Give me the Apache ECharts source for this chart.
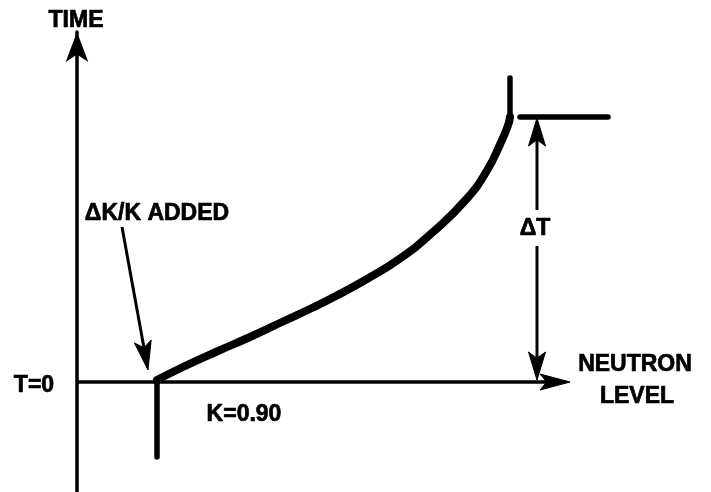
<!DOCTYPE html>
<html>
<head>
<meta charset="utf-8">
<style>
  html, body { margin: 0; padding: 0; background: #fff; }
  #chart { width: 711px; height: 492px; }
</style>
<script src="https://cdn.jsdelivr.net/npm/echarts@6/dist/echarts.min.js"></script>
</head>
<body>
<div id="chart"></div>
<script>
// ---- Data (arbitrary units: neutron level on x, time on y) ----
// Neutron level vs time after reactivity (ΔK/K) is added at T=0
const curveLevel = [16, 21.2, 28, 34.6, 41.2, 47.2, 51.2, 58, 64.6, 71.2, 78, 82, 84.6, 86.2, 86.6];
const curveTime  = [0.4, 3.0, 6.1, 9.0, 12.1, 14.9, 16.9, 20.6, 24.7, 30, 36.7, 42.3, 47.5, 51.3, 53];
// vertical stroke where ΔK/K is added (level = 16) below T = 0
const dropLevel = [16, 16];
const dropTime  = [0, -15];
// vertical stroke at the top of the curve
const topRiseLevel = [86.6, 86.6];
const topRiseTime  = [52, 60.8];
// horizontal reference line at end of ΔT
const refLevel = [88.6, 106.2];
const refTime  = [53, 53];
// arrows: [fromLevel, fromTime, toLevel, toTime]
const levelAxisArrow = [0, 0, 98.6, 0];
const dtUpperArrow   = [92, 34.4, 92, 52.8];
const dtLowerArrow   = [92, 27.2, 92, 0.4];
const addedArrow     = [9, 31, 14.2, 2.4];
// labels
const labels = {
  time: 'TIME', t0: 'T=0', added: 'ΔK/K ADDED', k: 'K=0.90', dt: 'ΔT',
  neutron: 'NEUTRON', level: 'LEVEL'
};

const zip = (a, b) => a.map((v, i) => [v, b[i]]);
const FONT = '"Liberation Sans", Arial, Helvetica, sans-serif';
const chart = echarts.init(document.getElementById('chart'), null, { renderer: 'canvas' });

// arrow styling (separate from data): line width, head length, head width
const arrowStyle = [
  { lw: 3.5, len: 30, w: 16 },
  { lw: 3, len: 28, w: 17 },
  { lw: 3, len: 28, w: 17 },
  { lw: 3, len: 29, w: 17 }
];

function renderArrow(params, api) {
  const s = arrowStyle[params.dataIndex];
  const p1 = api.coord([api.value(0), api.value(1)]);
  const p2 = api.coord([api.value(2), api.value(3)]);
  const dx = p2[0] - p1[0], dy = p2[1] - p1[1];
  const d = Math.sqrt(dx * dx + dy * dy) || 1;
  const ux = dx / d, uy = dy / d, nx = -uy, ny = ux;
  const bx = p2[0] - ux * s.len, by = p2[1] - uy * s.len;
  const notch = [p2[0] - ux * s.len * 0.78, p2[1] - uy * s.len * 0.78];
  return {
    type: 'group',
    children: [
      { type: 'line', shape: { x1: p1[0], y1: p1[1], x2: notch[0], y2: notch[1] },
        style: { stroke: '#000', lineWidth: s.lw } },
      { type: 'polygon', shape: { points: [
          [p2[0], p2[1]],
          [bx + nx * s.w / 2, by + ny * s.w / 2],
          notch,
          [bx - nx * s.w / 2, by - ny * s.w / 2]
        ] }, style: { fill: '#000', stroke: '#000', lineWidth: 1, lineJoin: 'round' } }
    ]
  };
}

function txt(text, x, y) {
  return {
    type: 'text', x: x, y: y, z: 10,
    style: { text: text, fill: '#000', stroke: '#000', lineWidth: 0.7,
      font: 'bold 23px ' + FONT, textAlign: 'center', textVerticalAlign: 'middle' }
  };
}

const option = {
  animation: false,
  backgroundColor: '#fff',
  grid: { left: 77, right: 0, top: 32, bottom: 0, containLabel: false },
  xAxis: {
    type: 'value', min: 0, max: 126.8,
    axisLine: { show: false },
    axisTick: { show: false }, axisLabel: { show: false }, splitLine: { show: false }
  },
  yAxis: {
    type: 'value', min: -22, max: 70,
    axisLine: { show: true, onZero: false, lineStyle: { color: '#000', width: 3.5 }, symbol: ['none', 'arrow'], symbolSize: [17, 30] },
    axisTick: { show: false }, axisLabel: { show: false }, splitLine: { show: false }
  },
  series: [
    {
      type: 'custom', coordinateSystem: 'cartesian2d', renderItem: renderArrow,
      encode: { x: [0, 2], y: [1, 3] },
      data: [levelAxisArrow, dtUpperArrow, dtLowerArrow, addedArrow]
    },
    {
      type: 'line', data: zip(curveLevel, curveTime), smooth: 0.5, showSymbol: false,
      lineStyle: { color: '#000', width: 8, cap: 'round', join: 'round' }
    },
    {
      type: 'line', data: zip(dropLevel, dropTime), showSymbol: false,
      lineStyle: { color: '#000', width: 5.5, cap: 'round' }
    },
    {
      type: 'line', data: zip(topRiseLevel, topRiseTime), showSymbol: false,
      lineStyle: { color: '#000', width: 5.5, cap: 'round' }
    },
    {
      type: 'line', data: zip(refLevel, refTime), showSymbol: false,
      lineStyle: { color: '#000', width: 5.5, cap: 'round' }
    }
  ],
  graphic: [
    txt(labels.time, 76, 21),
    txt(labels.t0, 34, 386),
    txt(labels.added, 157, 214),
    txt(labels.k, 244, 415),
    txt(labels.dt, 535, 229),
    txt(labels.neutron, 635, 365),
    txt(labels.level, 637, 397)
  ]
};
chart.setOption(option);
</script>
</body>
</html>
